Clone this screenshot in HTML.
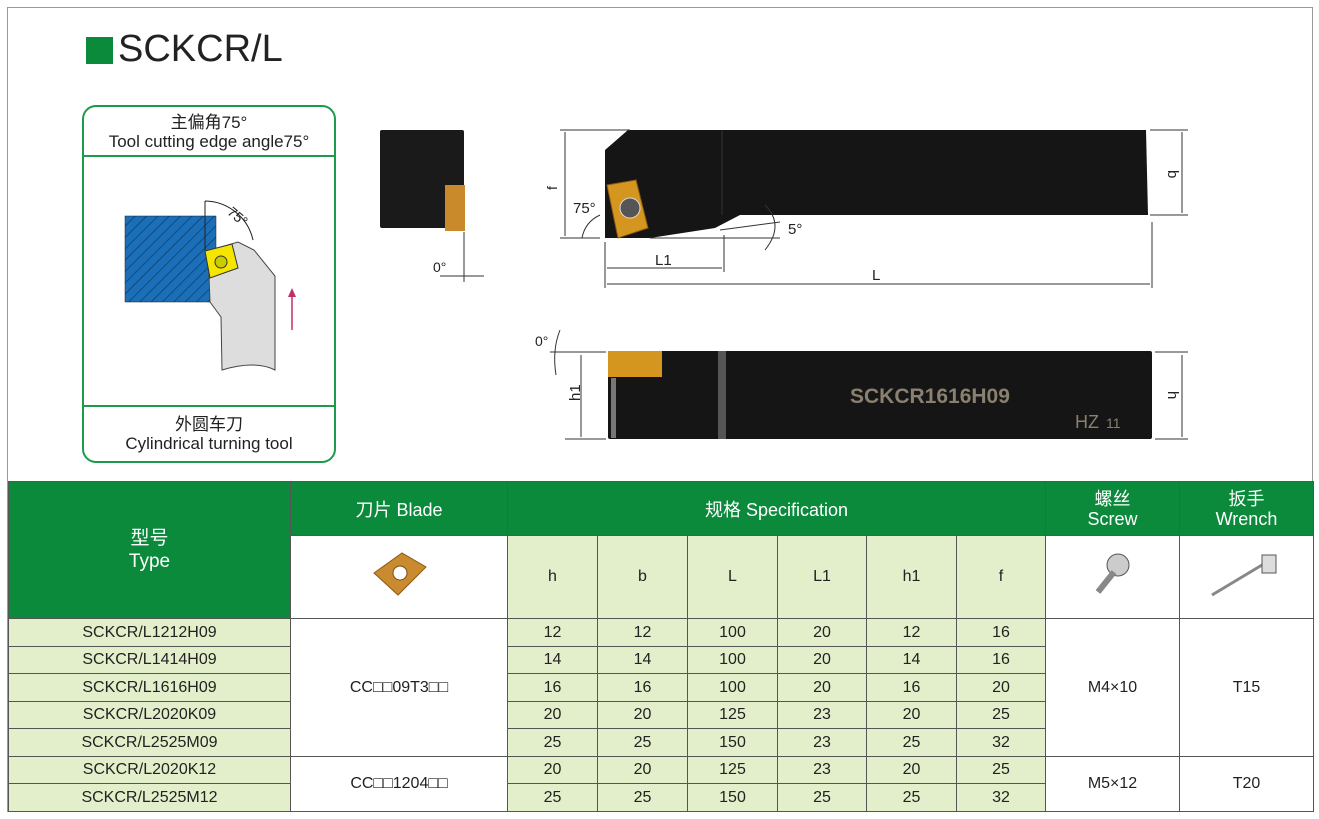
<!DOCTYPE html>
<html><head><meta charset="utf-8"><style>
body{margin:0;background:#fff;width:1319px;height:819px;position:relative;overflow:hidden;font-family:"Liberation Sans","Noto Sans CJK SC",sans-serif;}
.frame{position:absolute;left:7px;top:7px;width:1306px;height:805px;border:1px solid #999;box-sizing:border-box;}
table{position:absolute;left:8px;top:481px;border-collapse:collapse;table-layout:fixed;}
td{border:1px solid #555;text-align:center;padding:0;font-size:16px;color:#222;}
.g{background:#0c8a3c;color:#fff;}
.l{background:#e3efcb;}
.w{background:#fff;}
</style></head><body>
<div class="frame"></div>
<div style="position:absolute;left:86px;top:37px;width:27px;height:27px;background:#0c8a3c"></div>
<div style="position:absolute;left:118px;top:28px;font-size:38px;color:#222">SCKCR/L</div>

<div style="position:absolute;left:82px;top:105px;width:254px;height:358px;border:2px solid #1d9a4a;border-radius:14px;box-sizing:border-box"></div>
<div style="position:absolute;left:82px;top:155px;width:254px;height:2px;background:#1d9a4a"></div>
<div style="position:absolute;left:82px;top:405px;width:254px;height:2px;background:#1d9a4a"></div>
<div style="position:absolute;left:82px;top:113px;width:254px;text-align:center;font-size:17px;line-height:19px;color:#222">主偏角75°<br>Tool cutting edge angle75°</div>
<div style="position:absolute;left:82px;top:415px;width:254px;text-align:center;font-size:17px;line-height:19px;color:#222">外圆车刀<br>Cylindrical turning tool</div>

<svg style="position:absolute;left:0;top:0" width="1319" height="480">
<defs><pattern id="h" width="8" height="8" patternUnits="userSpaceOnUse" patternTransform="rotate(45)"><rect width="8" height="8" fill="#1a6fb8"/><line x1="0" y1="0" x2="0" y2="8" stroke="#0d3e6a" stroke-width="1.5"/></pattern></defs>
<rect x="125" y="216" width="91" height="86" fill="url(#h)" stroke="#123" stroke-width="0.5"/>
<path d="M208 251 L238 242 L254 250 L275 276 L275 370 Q255 360 222 370 L221 317 L210 302 Z" fill="#ddd" stroke="#444" stroke-width="1"/>
<path d="M205 251 L232 244 L238 268 L210 278 Z" fill="#f5e600" stroke="#333"/>
<circle cx="221" cy="262" r="6" fill="#cc0" stroke="#333"/>
<path d="M205 201 L205 250 M205 201 A50 50 0 0 1 253 240" stroke="#222" fill="none"/>
<text x="228" y="219" font-size="14" transform="rotate(40 235 214)" fill="#222">75°</text>
<line x1="292" y1="330" x2="292" y2="292" stroke="#c0306a" stroke-width="1.5"/><path d="M288 297 L292 288 L296 297Z" fill="#c0306a"/>

<rect x="380" y="130" width="84" height="98" fill="#1a1a1a" rx="2"/>
<rect x="445" y="185" width="20" height="46" fill="#c88a2a"/>
<line x1="464" y1="232" x2="464" y2="282" stroke="#333"/>
<text x="433" y="272" font-size="14" fill="#222">0°</text>
<line x1="440" y1="276" x2="484" y2="276" stroke="#333"/>

<path d="M628 130 L1146 130 L1148 215 L740 215 L715 228 L650 238 L605 238 L605 150 Z" fill="#151515"/>
<line x1="722" y1="130" x2="722" y2="215" stroke="#333"/>
<path d="M607 185 L636 180 L648 228 L618 238 Z" fill="#d4961f" stroke="#8a5a10"/>
<circle cx="630" cy="208" r="10" fill="#555" stroke="#ddd"/>
<g stroke="#333" fill="none" stroke-width="1">
<line x1="560" y1="130" x2="630" y2="130"/><line x1="560" y1="238" x2="600" y2="238"/><line x1="565" y1="132" x2="565" y2="236"/>
<line x1="1150" y1="130" x2="1188" y2="130"/><line x1="1150" y1="215" x2="1188" y2="215"/><line x1="1182" y1="132" x2="1182" y2="213"/>
<line x1="605" y1="242" x2="605" y2="288"/><line x1="724" y1="235" x2="724" y2="272"/><line x1="1152" y1="222" x2="1152" y2="288"/>
<line x1="607" y1="268" x2="722" y2="268"/><line x1="607" y1="284" x2="1150" y2="284"/>
<line x1="650" y1="238" x2="780" y2="238"/><line x1="720" y1="230" x2="780" y2="222"/>
<path d="M765 205 Q785 225 765 250"/><path d="M600 215 Q585 222 582 238"/>
</g>
<text x="547" y="190" font-size="14" transform="rotate(-90 552 185)" fill="#222">f</text>
<text x="1170" y="176" font-size="15" transform="rotate(90 1172 172)" fill="#222">b</text>
<text x="573" y="213" font-size="15" fill="#222">75°</text>
<text x="788" y="234" font-size="15" fill="#222">5°</text>
<text x="655" y="265" font-size="15" fill="#222">L1</text>
<text x="872" y="280" font-size="15" fill="#222">L</text>

<rect x="608" y="351" width="544" height="88" fill="#151515" rx="2"/>
<rect x="608" y="351" width="54" height="26" fill="#d4961f"/>
<rect x="611" y="378" width="5" height="60" fill="#777"/>
<rect x="718" y="351" width="8" height="88" fill="#555"/>
<text x="850" y="403" font-size="21" fill="#8a8070" font-family="Liberation Sans Narrow,Liberation Sans" font-weight="bold">SCKCR1616H09</text>
<text x="1075" y="428" font-size="18" fill="#8a8070">HZ</text><text x="1106" y="428" font-size="14" fill="#8a8070">11</text>
<g stroke="#333" fill="none">
<line x1="550" y1="352" x2="606" y2="352"/><line x1="565" y1="439" x2="606" y2="439"/><line x1="581" y1="355" x2="581" y2="437"/>
<line x1="1155" y1="352" x2="1188" y2="352"/><line x1="1155" y1="439" x2="1188" y2="439"/><line x1="1182" y1="355" x2="1182" y2="437"/>
<path d="M560 330 Q552 350 556 375"/>
</g>
<text x="535" y="346" font-size="14" fill="#222">0°</text>
<text x="569" y="402" font-size="15" transform="rotate(-90 574 396)" fill="#222">h1</text>
<text x="1169" y="398" font-size="15" transform="rotate(90 1172 394)" fill="#222">h</text>
</svg>

<table>
<colgroup><col style="width:282px"><col style="width:217px"><col style="width:90px"><col style="width:90px"><col style="width:90px"><col style="width:89px"><col style="width:90px"><col style="width:89px"><col style="width:134px"><col style="width:134px"></colgroup>
<tr style="height:54px"><td class="g" rowspan="2" style="font-size:19px;line-height:23px">型号<br>Type</td><td class="g" style="font-size:18px">刀片 Blade</td><td class="g" colspan="6" style="font-size:18px">规格 Specification</td><td class="g" style="font-size:18px;line-height:20px">螺丝<br>Screw</td><td class="g" style="font-size:18px;line-height:20px">扳手<br>Wrench</td></tr>
<tr style="height:83px"><td class="w"><svg width="70" height="60" viewBox="0 0 70 60"><path d="M10 28 L38 8 L62 22 L34 50 Z" fill="#c98a30" stroke="#8a5a10"/><circle cx="36" cy="28" r="7" fill="#fff" stroke="#7a4a10"/></svg></td><td class="l">h</td><td class="l">b</td><td class="l">L</td><td class="l">L1</td><td class="l">h1</td><td class="l">f</td>
<td class="w"><svg width="50" height="50"><circle cx="30" cy="15" r="11" fill="#ccc" stroke="#555"/><line x1="26" y1="22" x2="10" y2="42" stroke="#888" stroke-width="6"/></svg></td>
<td class="w"><svg width="80" height="50"><line x1="5" y1="45" x2="60" y2="12" stroke="#888" stroke-width="3"/><rect x="55" y="5" width="14" height="18" fill="#ddd" stroke="#555"/></svg></td></tr>
<tr style="height:28px"><td class="l">SCKCR/L1212H09</td><td class="w" rowspan="5">CC□□09T3□□</td><td class="l">12</td><td class="l">12</td><td class="l">100</td><td class="l">20</td><td class="l">12</td><td class="l">16</td><td class="w" rowspan="5">M4×10</td><td class="w" rowspan="5">T15</td></tr>
<tr style="height:27px"><td class="l">SCKCR/L1414H09</td><td class="l">14</td><td class="l">14</td><td class="l">100</td><td class="l">20</td><td class="l">14</td><td class="l">16</td></tr>
<tr style="height:28px"><td class="l">SCKCR/L1616H09</td><td class="l">16</td><td class="l">16</td><td class="l">100</td><td class="l">20</td><td class="l">16</td><td class="l">20</td></tr>
<tr style="height:27px"><td class="l">SCKCR/L2020K09</td><td class="l">20</td><td class="l">20</td><td class="l">125</td><td class="l">23</td><td class="l">20</td><td class="l">25</td></tr>
<tr style="height:28px"><td class="l">SCKCR/L2525M09</td><td class="l">25</td><td class="l">25</td><td class="l">150</td><td class="l">23</td><td class="l">25</td><td class="l">32</td></tr>
<tr style="height:27px"><td class="l">SCKCR/L2020K12</td><td class="w" rowspan="2">CC□□1204□□</td><td class="l">20</td><td class="l">20</td><td class="l">125</td><td class="l">23</td><td class="l">20</td><td class="l">25</td><td class="w" rowspan="2">M5×12</td><td class="w" rowspan="2">T20</td></tr>
<tr style="height:28px"><td class="l">SCKCR/L2525M12</td><td class="l">25</td><td class="l">25</td><td class="l">150</td><td class="l">25</td><td class="l">25</td><td class="l">32</td></tr>
</table>
</body></html>
